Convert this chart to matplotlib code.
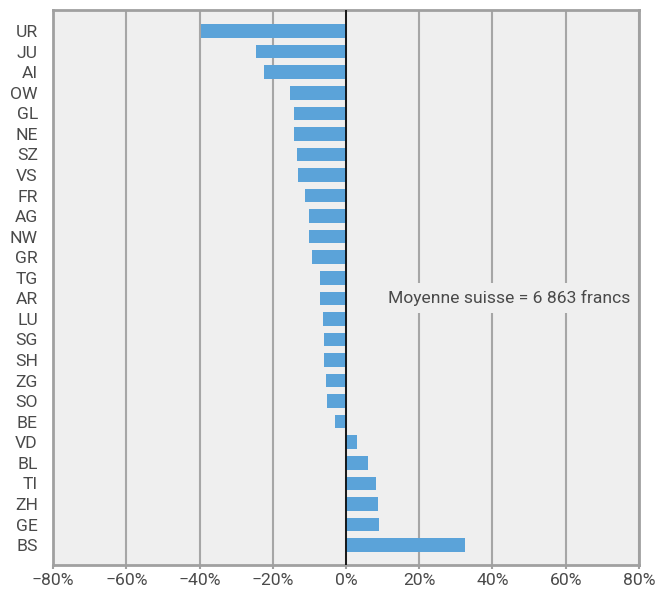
import matplotlib.pyplot as plt

plt.rcParams['font.family'] = ['Roboto', 'DejaVu Sans']

# Cantons et écart par rapport à la moyenne suisse (%)
cantons = ['UR', 'JU', 'AI', 'OW', 'GL', 'NE', 'SZ', 'VS', 'FR', 'AG', 'NW', 'GR', 'TG',
           'AR', 'LU', 'SG', 'SH', 'ZG', 'SO', 'BE', 'VD', 'BL', 'TI', 'ZH', 'GE', 'BS']
ecart = [-39.5, -24.7, -22.5, -15.2, -14.3, -14.3, -13.5, -13.0, -11.1, -10.2, -10.0, -9.4, -7.2,
         -7.2, -6.4, -6.1, -6.1, -5.6, -5.3, -3.1, 2.9, 5.9, 8.1, 8.6, 9.1, 32.4]
xticks = [-80, -60, -40, -20, 0, 20, 40, 60, 80]
note = 'Moyenne suisse = 6 863 francs'

txt = '#4a4a4a'
fs = 12.6
fig = plt.figure(figsize=(6.56, 5.96), dpi=100)
ax = fig.add_axes([0.081, 0.052, 0.893, 0.931])
ax.set_facecolor('#efefef')

pos = range(len(cantons))
ax.barh(pos, ecart, height=0.66, color='#5ba3d9', zorder=3)
ax.axvline(0, color='black', lw=1.2, zorder=4)

ax.set_xlim(-80, 80)
ax.set_ylim(25.97, -1.02)
ax.set_xticks(xticks)
ax.set_xticklabels(['\u221280%', '\u221260%', '\u221240%', '\u221220%', '0%', '20%', '40%', '60%', '80%'])
ax.set_yticks(list(pos))
ax.set_yticklabels(cantons)
ax.tick_params(axis='y', length=0, pad=11, labelsize=fs, labelcolor=txt)
ax.tick_params(axis='x', length=3, width=1.5, color='#a0a0a0', labelsize=fs, labelcolor=txt, pad=3)

ax.grid(axis='x', color='#a6a6a6', lw=1.5, zorder=1)
for s in ax.spines.values():
    s.set_color('#a0a0a0')
    s.set_linewidth(2)

ax.text(77.6, 13, note, ha='right', va='center', fontsize=fs, color=txt,
        zorder=5, bbox=dict(facecolor='#efefef', edgecolor='none', pad=5))

fig.savefig('out.png', dpi=100)
